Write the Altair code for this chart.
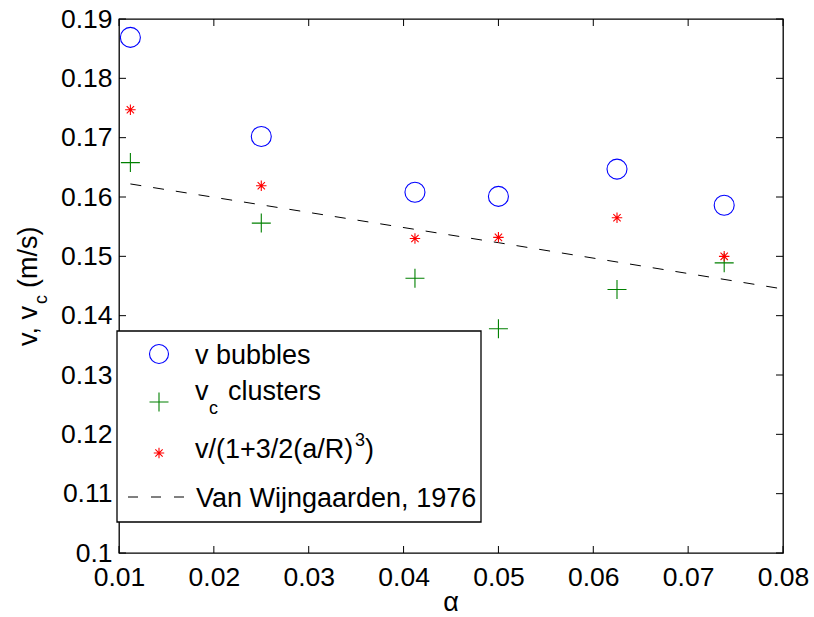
import altair as alt
import pandas as pd

# ---- data ----
alpha = [0.0112, 0.0250, 0.0412, 0.0500, 0.0625, 0.0738]
v_bubbles = [0.1869, 0.1702, 0.1608, 0.1601, 0.1647, 0.1586]
vc_clusters = [0.1658, 0.1556, 0.1463, 0.1378, 0.1444, 0.1489]
v_corrected = [0.1747, 0.1619, 0.1530, 0.1532, 0.1565, 0.1500]
vw_alpha = [0.0112, 0.0500, 0.0800]
vw_v = [0.1622, 0.1523, 0.1445]
x_ticks = [0.01, 0.02, 0.03, 0.04, 0.05, 0.06, 0.07, 0.08]
y_ticks = [0.10, 0.11, 0.12, 0.13, 0.14, 0.15, 0.16, 0.17, 0.18, 0.19]

FONT = "Liberation Sans"
W, H = 664, 534
TICK = 7

STAR = "M-1,0L1,0M0,-1L0,1M-0.7,-0.7L0.7,0.7M-0.7,0.7L0.7,-0.7"
PLUS = "M-1,0L1,0M0,-1L0,1"

xscale = alt.Scale(domain=[0.01, 0.08], nice=False, zero=False)
yscale = alt.Scale(domain=[0.10, 0.19], nice=False, zero=False)
xaxis = alt.Axis(values=x_ticks, format=".2f", title=None, grid=False, domain=False,
                 tickSize=0, labelPadding=11, labelFont=FONT, labelFontSize=26.5,
                 labelColor="black", labelFlush=False, labelOverlap=False)
yaxis = alt.Axis(values=y_ticks, format=".2~f", title=None, grid=False, domain=False,
                 tickSize=0, labelPadding=7, labelFont=FONT, labelFontSize=26.5,
                 labelColor="black", labelFlush=False, labelOverlap=False)


def X(f):
    return alt.X(f"{f}:Q", scale=xscale, axis=xaxis)


def Y(f):
    return alt.Y(f"{f}:Q", scale=yscale, axis=yaxis)


df = pd.DataFrame({"alpha": alpha, "vb": v_bubbles, "vc": vc_clusters, "vs": v_corrected})
dline = pd.DataFrame({"alpha": vw_alpha, "v": vw_v})
dx = pd.DataFrame({"t": x_ticks})
dy = pd.DataFrame({"t": y_ticks})
one = pd.DataFrame({"k": [0]})

line = alt.Chart(dline).mark_line(color="black", strokeWidth=1, strokeDash=[11, 12]).encode(
    x=X("alpha"), y=Y("v"))
circles = alt.Chart(df).mark_point(shape="circle", size=400, filled=False, color="#0000FF",
                                   strokeWidth=1.1, opacity=1).encode(x=X("alpha"), y=Y("vb"))
pluses = alt.Chart(df).mark_point(shape=PLUS, size=361, filled=False, color="#008000",
                                  strokeWidth=1.1, opacity=1).encode(x=X("alpha"), y=Y("vc"))
stars = alt.Chart(df).mark_point(shape=STAR, size=110, filled=False, color="#FF0000",
                                 strokeWidth=1.1, opacity=1).encode(x=X("alpha"), y=Y("vs"))

# inward ticks on all four sides
tb = alt.Chart(dx).mark_rule(color="black", strokeWidth=1).encode(
    x=X("t"), y=alt.value(H), y2=alt.value(H - TICK))
tt = alt.Chart(dx).mark_rule(color="black", strokeWidth=1).encode(
    x=X("t"), y=alt.value(0), y2=alt.value(TICK))
tl = alt.Chart(dy).mark_rule(color="black", strokeWidth=1).encode(
    y=Y("t"), x=alt.value(0), x2=alt.value(TICK))
tr = alt.Chart(dy).mark_rule(color="black", strokeWidth=1).encode(
    y=Y("t"), x=alt.value(W), x2=alt.value(W - TICK))


def txt(s, x, y, size=27, angle=None, align="left"):
    kw = dict(align=align, baseline="alphabetic", font=FONT, fontSize=size, color="black")
    if angle is not None:
        kw["angle"] = angle
    return alt.Chart(one).mark_text(**kw).encode(
        x=alt.value(x), y=alt.value(y), text=alt.value(s))


# legend
box = alt.Chart(one).mark_rect(fill="white", stroke="black", strokeWidth=1.3).encode(
    x=alt.value(-2), x2=alt.value(362), y=alt.value(312), y2=alt.value(503))
lg_circle = alt.Chart(one).mark_point(shape="circle", size=361, filled=False, color="#0000FF",
                                      strokeWidth=1.1, opacity=1).encode(
    x=alt.value(40), y=alt.value(335))
lg_plus = alt.Chart(one).mark_point(shape=PLUS, size=361, filled=False, color="#008000",
                                    strokeWidth=1.1, opacity=1).encode(
    x=alt.value(40), y=alt.value(383))
lg_star = alt.Chart(one).mark_point(shape=STAR, size=110, filled=False, color="#FF0000",
                                    strokeWidth=1.1, opacity=1).encode(
    x=alt.value(40), y=alt.value(434))
lg_line = alt.Chart(one).mark_rule(color="black", strokeWidth=1, strokeDash=[10, 13]).encode(
    x=alt.value(9), x2=alt.value(68), y=alt.value(478))

legend = [
    box, lg_circle, lg_plus, lg_star, lg_line,
    txt("v bubbles", 76, 345),
    txt("v", 76, 381),
    txt("c", 90, 395, size=18),
    txt("clusters", 109, 381),
    txt("v/(1+3/2(a/R)", 76, 439),
    txt("3", 236, 427, size=18),
    txt(")", 246, 439),
    txt("Van Wijngaarden, 1976", 77, 488),
]

titles = [
    txt("\u03b1", 332, 592, align="center"),
    txt("v, v", -82, 327, angle=270),
    txt("c", -72, 285, size=18, angle=270),
    txt("(m/s)", -82, 269, angle=270),
]

chart = alt.layer(
    line, circles, pluses, stars, tb, tt, tl, tr, *legend, *titles
).properties(
    width=W, height=H,
    autosize=alt.AutoSizeParams(type="none"),
    padding={"left": 119, "top": 19, "right": 31, "bottom": 64},
    background="white",
).configure_view(stroke="black", strokeWidth=1.3)

chart.save("out.html", embed_options={"renderer": "svg", "actions": False})
